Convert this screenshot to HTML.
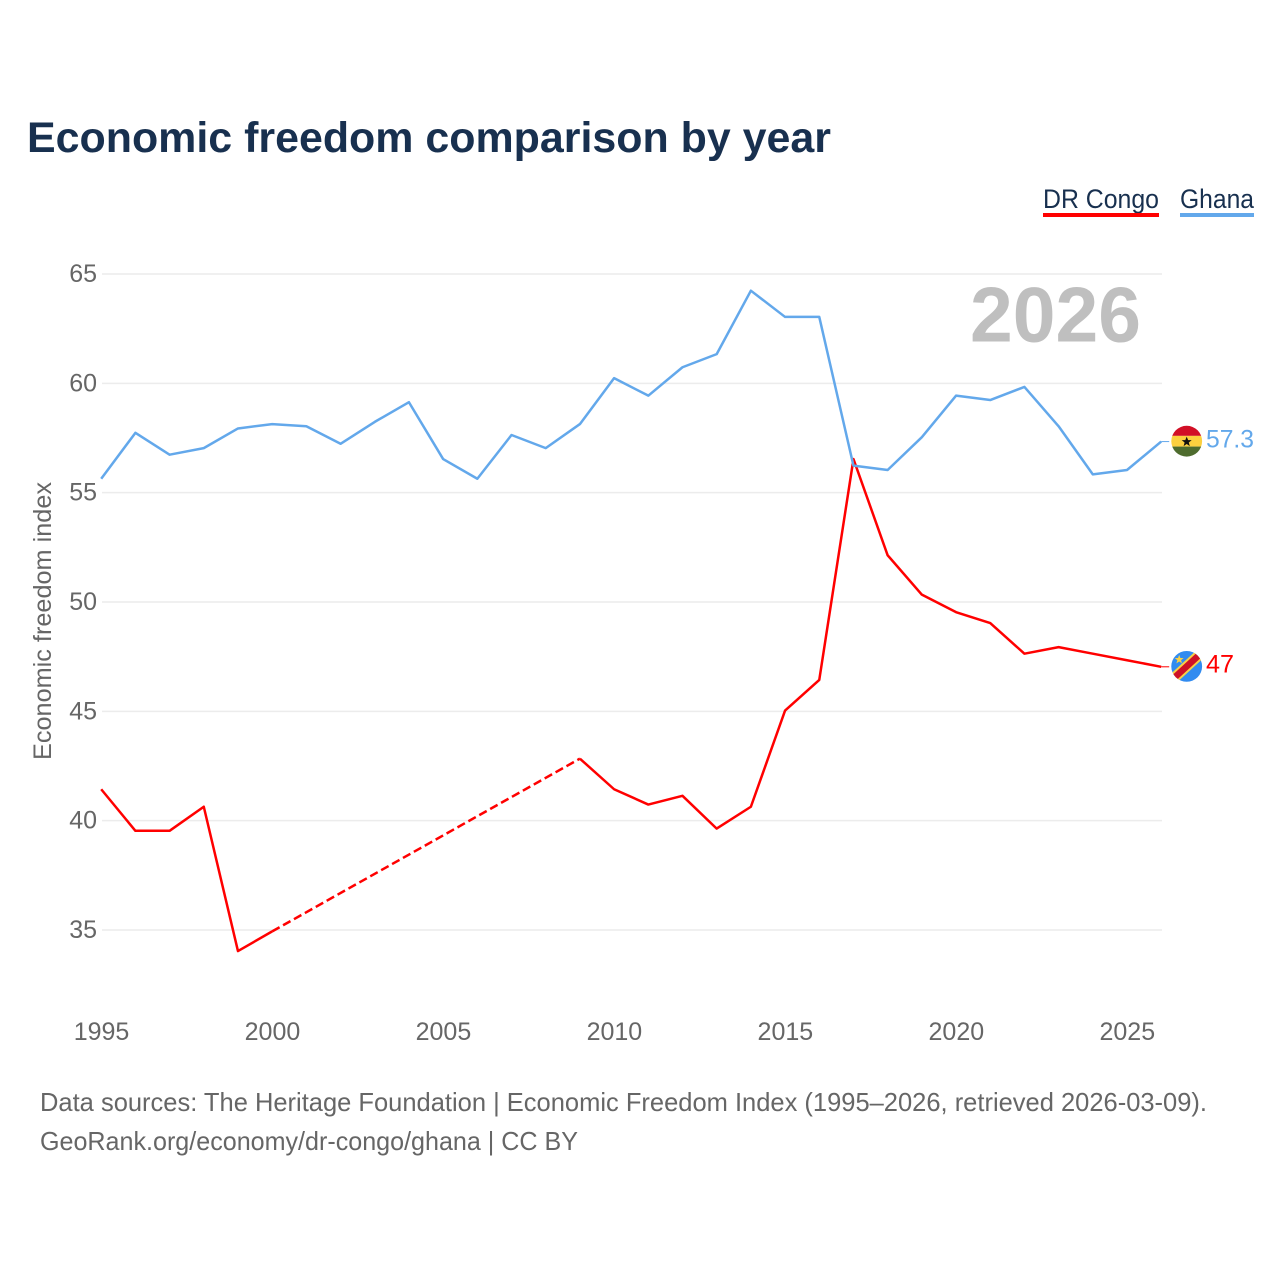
<!DOCTYPE html>
<html lang="en">
<head>
<meta charset="utf-8">
<title>Economic freedom comparison by year</title>
<style>
html,body{margin:0;padding:0;background:#fff;}
svg{display:block;font-family:"Liberation Sans",Arial,sans-serif;}
</style>
</head>
<body>
<svg id="chart" xmlns="http://www.w3.org/2000/svg" width="1280" height="1280" viewBox="0 0 1280 1280">
  <defs>
    <clipPath id="clip-ghana"><circle cx="0" cy="0" r="15.4"></circle></clipPath>
    <clipPath id="clip-congo"><circle cx="0" cy="0" r="15.4"></circle></clipPath>
  </defs>
  <rect width="1280" height="1280" fill="#fff"></rect>
  <text x="27" y="152" font-size="43" font-weight="700" fill="#18304f" textLength="804" lengthAdjust="spacingAndGlyphs">Economic freedom comparison by year</text>

  <g>
    <g>
      <text x="1043" y="208" font-size="27" fill="#18304f" textLength="116" lengthAdjust="spacingAndGlyphs">DR Congo</text>
      <rect x="1043" y="213" width="116" height="4" fill="#ff0000"></rect>
    </g>
    <g>
      <text x="1180" y="208" font-size="27" fill="#18304f" textLength="74" lengthAdjust="spacingAndGlyphs">Ghana</text>
      <rect x="1180" y="213" width="74" height="4" fill="#63a8eb"></rect>
    </g>
  </g>

  <g id="grid"></g>
  <g id="y-labels"></g>
  <g id="x-labels"></g>

  <text x="970" y="341.500" font-size="78" font-weight="700" fill="#bfbfbf" textLength="171" lengthAdjust="spacingAndGlyphs">2026</text>

  <text transform="translate(51,760) rotate(-90)" font-size="25" fill="#666666" textLength="278" lengthAdjust="spacingAndGlyphs">Economic freedom index</text>

  <g id="series" transform="translate(-0.8,-0.8)"></g>

  <g id="flag-ghana" clip-path="url(#clip-ghana)">
    <rect x="-16" y="-16" width="32" height="10.700" fill="#d20f26"></rect>
    <rect x="-16" y="-5.300" width="32" height="10.700" fill="#fcd03f"></rect>
    <rect x="-16" y="5.400" width="32" height="11" fill="#4e6c2e"></rect>
    <polygon points="0,-4.500 1.400,-1 5,-1 2.100,1.300 3.100,5 0,2.800 -3.100,5 -2.100,1.300 -5,-1 -1.400,-1" fill="#111"></polygon>
  </g>
  <g id="flag-congo" clip-path="url(#clip-congo)">
    <rect x="-16" y="-16" width="32" height="32" fill="#318bf0"></rect>
    <line x1="-18" y1="16.500" x2="18" y2="-16.500" stroke="#f7d046" stroke-width="10.500"></line>
    <line x1="-18" y1="16.500" x2="18" y2="-16.500" stroke="#ce1126" stroke-width="6.500"></line>
    <polygon points="0,-4.500 1.200,-1.400 4.500,-1.400 1.900,0.700 2.800,4 0,2.100 -2.800,4 -1.900,0.700 -4.500,-1.400 -1.200,-1.400" fill="#f7d046" transform="translate(-7.500,-7)"></polygon>
  </g>

  <text id="value-ghana" x="1206" font-size="25" fill="#63a8eb" textLength="48" lengthAdjust="spacingAndGlyphs">57.3</text>
  <text id="value-congo" x="1206" font-size="25" fill="#ff0000" textLength="28" lengthAdjust="spacingAndGlyphs">47</text>

  <text x="40" y="1111" font-size="26" fill="#666666" textLength="1167" lengthAdjust="spacingAndGlyphs">Data sources: The Heritage Foundation | Economic Freedom Index (1995–2026, retrieved 2026-03-09).</text>
  <text x="40" y="1150" font-size="26" fill="#666666" textLength="538" lengthAdjust="spacingAndGlyphs">GeoRank.org/economy/dr-congo/ghana | CC BY</text>
</svg>

<script>
const startYear = 1995;
const endYear = 2026;
const yTicks = [35, 40, 45, 50, 55, 60, 65];
const xTicks = [1995, 2000, 2005, 2010, 2015, 2020, 2025];
const ghanaValues = [55.6, 57.7, 56.7, 57.0, 57.9, 58.1, 58.0, 57.2, 58.2, 59.1, 56.5, 55.6, 57.6, 57.0, 58.1, 60.2, 59.4, 60.7, 61.3, 64.2, 63.0, 63.0, 56.2, 56.0, 57.5, 59.4, 59.2, 59.8, 58.0, 55.8, 56.0, 57.3];
const congoValues = [41.4, 39.5, 39.5, 40.6, 34.0, 34.9, null, null, null, null, null, null, null, null, 42.8, 41.4, 40.7, 41.1, 39.6, 40.6, 45.0, 46.4, 56.5, 52.1, 50.3, 49.5, 49.0, 47.6, 47.9, 47.6, 47.3, 47.0];

const SVG_NS = 'http://www.w3.org/2000/svg';
const plotLeft = 102, plotRight = 1162, y65 = 274, y35 = 930;

function xScale(year) {
  return plotLeft + (year - startYear) * (plotRight - plotLeft) / (endYear - startYear);
}
function yScale(v) {
  return y65 + (65 - v) * (y35 - y65) / 30;
}

function pathOf(points) {
  return points.map(function (p, i) {
    return (i ? 'L' : 'M') + xScale(p[0]).toFixed(2) + ' ' + yScale(p[1]).toFixed(2);
  }).join(' ');
}

const gridGroup = document.getElementById('grid');
const yLabelGroup = document.getElementById('y-labels');
const xLabelGroup = document.getElementById('x-labels');
const seriesGroup = document.getElementById('series');

yTicks.forEach(function (t) {
  const line = document.createElementNS(SVG_NS, 'line');
  line.setAttribute('x1', plotLeft);
  line.setAttribute('x2', plotRight);
  line.setAttribute('y1', yScale(t));
  line.setAttribute('y2', yScale(t));
  line.setAttribute('stroke', '#ececec');
  line.setAttribute('stroke-width', '1.5');
  
  
  gridGroup.appendChild(line);

  const label = document.createElementNS(SVG_NS, 'text');
  label.setAttribute('x', 97);
  label.setAttribute('y', yScale(t) + 8);
  label.setAttribute('text-anchor', 'end');
  label.setAttribute('font-size', '25');
  label.setAttribute('fill', '#666666');
  
  
  label.textContent = t;
  yLabelGroup.appendChild(label);
});

xTicks.forEach(function (t) {
  const label = document.createElementNS(SVG_NS, 'text');
  label.setAttribute('x', xScale(t) - 0.5);
  label.setAttribute('y', 1040);
  label.setAttribute('text-anchor', 'middle');
  label.setAttribute('font-size', '25');
  label.setAttribute('fill', '#666666');
  
  
  label.textContent = t;
  xLabelGroup.appendChild(label);
});

function drawSeries(values, color, key) {
  let run = [];
  let lastPoint = null;
  let gapPending = false;

  function flush() {
    if (run.length > 1) {
      const solid = document.createElementNS(SVG_NS, 'path');
      solid.setAttribute('d', pathOf(run));
      solid.setAttribute('fill', 'none');
      solid.setAttribute('stroke', color);
      solid.setAttribute('stroke-width', '2.5');
      solid.setAttribute('stroke-linejoin', 'round');
      
      
      seriesGroup.appendChild(solid);
    }
    run = [];
  }

  values.forEach(function (v, i) {
    const year = startYear + i;
    if (v === null) {
      if (run.length) flush();
      gapPending = true;
      return;
    }
    if (gapPending && lastPoint) {
      const dashed = document.createElementNS(SVG_NS, 'path');
      dashed.setAttribute('d', pathOf([lastPoint, [year, v]]));
      dashed.setAttribute('fill', 'none');
      dashed.setAttribute('stroke', color);
      dashed.setAttribute('stroke-width', '2.5');
      dashed.setAttribute('stroke-dasharray', '8.5 4');
      
      
      seriesGroup.appendChild(dashed);
    }
    gapPending = false;
    run.push([year, v]);
    lastPoint = [year, v];
  });
  flush();

  const endY = yScale(values[values.length - 1]);
  const connector = document.createElementNS(SVG_NS, 'line');
  connector.setAttribute('x1', plotRight);
  connector.setAttribute('x2', plotRight + 8);
  connector.setAttribute('y1', endY);
  connector.setAttribute('y2', endY);
  connector.setAttribute('stroke', color);
  connector.setAttribute('stroke-width', '1');
  
  
  seriesGroup.appendChild(connector);
  return endY;
}

const congoEnd = drawSeries(congoValues, '#ff0000', 'dr-congo');
const ghanaEnd = drawSeries(ghanaValues, '#63a8eb', 'ghana');

function placeFlag(id, y) {
  const flagY = y - 1.2;
  document.getElementById(id).setAttribute('transform', 'translate(1186.7,' + flagY + ')');
}
placeFlag('flag-ghana', ghanaEnd);
placeFlag('flag-congo', congoEnd);
document.getElementById('value-ghana').setAttribute('y', ghanaEnd + 5);
document.getElementById('value-congo').setAttribute('y', congoEnd + 5);
</script>
</body>
</html>
